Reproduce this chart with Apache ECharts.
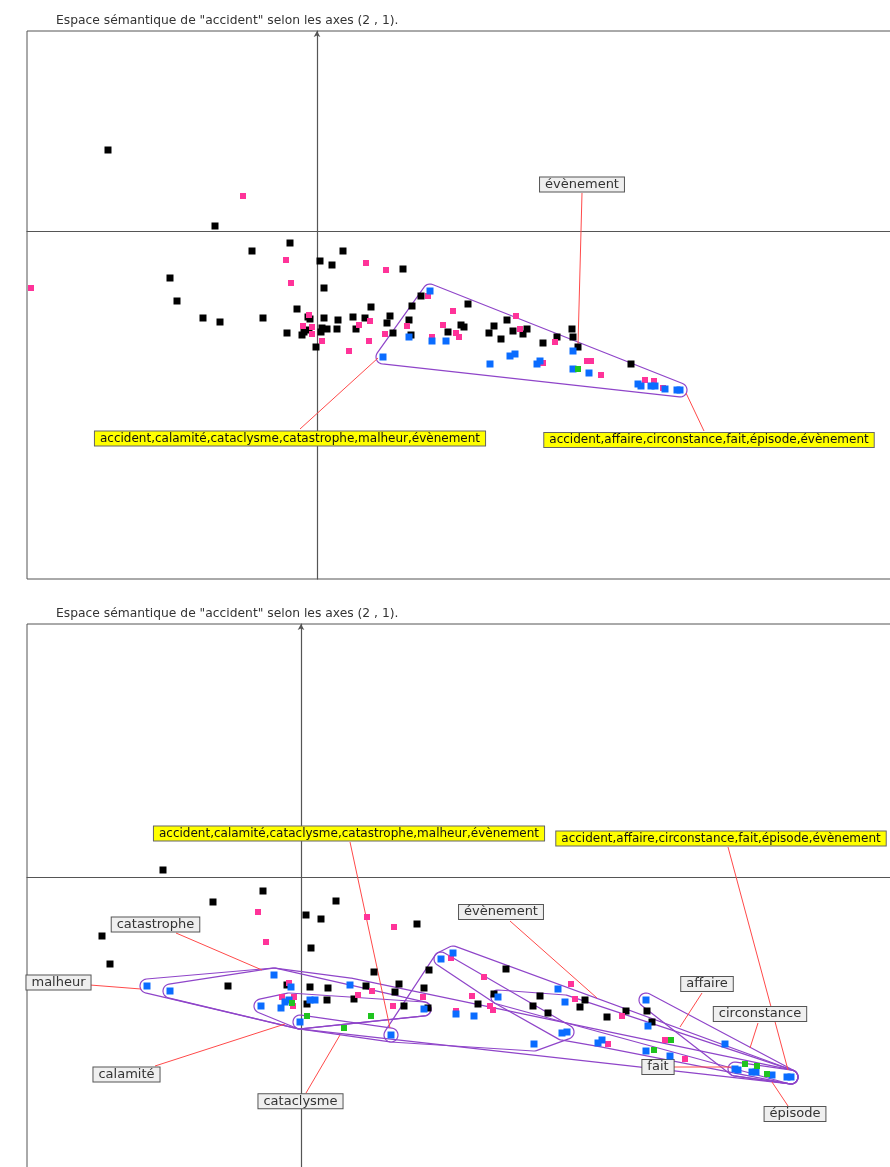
<!DOCTYPE html>
<html>
<head>
<meta charset="utf-8">
<title>Espace sémantique de "accident"</title>
<script src="https://cdn.jsdelivr.net/npm/echarts@6/dist/echarts.min.js"></script>
<style>
  html, body { margin: 0; padding: 0; background: #fff; }
  #chart { width: 890px; height: 1167px; }
</style>
</head>
<body>
<div id="chart"></div>
<script>
// Axes (2, 1) coordinates of every word sense, two views of the same space.
const titleText = 'Espace sémantique de "accident" selon les axes (2 , 1).';

// ---- upper view ----
const blackA = [[-2.09,0.81],[-1.02,0.05],[-0.27,-0.12],[-0.65,-0.20],[0.26,-0.20],[0.03,-0.30],[0.15,-0.34],[0.86,-0.38],[-1.47,-0.47],[0.07,-0.57],[-1.40,-0.70],[1.04,-0.65],[-0.20,-0.78],[0.95,-0.75],[0.54,-0.76],[-1.14,-0.87],[-0.97,-0.91],[-0.54,-0.87],[-0.09,-0.86],[-0.07,-0.88],[0.07,-0.87],[0.21,-0.89],[0.36,-0.86],[0.48,-0.87],[0.73,-0.85],[0.70,-0.92],[0.92,-0.89],[0.39,-0.98],[0.20,-0.98],[0.10,-0.98],[0.05,-0.97],[0.04,-1.01],[-0.08,-0.99],[-0.13,-1.01],[-0.15,-1.04],[-0.30,-1.02],[0.76,-1.02],[0.94,-1.04],[-0.01,-1.16],[1.51,-0.73],[1.31,-1.01],[1.44,-0.94],[1.47,-0.96],[1.77,-0.95],[1.72,-1.02],[1.90,-0.89],[1.84,-1.08],[1.96,-1.00],[2.06,-1.03],[2.10,-0.98],[2.26,-1.12],[2.40,-1.06],[2.55,-0.98],[2.56,-1.06],[2.61,-1.16],[3.14,-1.33]];
const pinkA = [[-0.74,0.35],[-2.86,-0.57],[-0.31,-0.29],[0.49,-0.32],[0.69,-0.39],[-0.26,-0.52],[-0.08,-0.84],[-0.14,-0.95],[-0.05,-0.96],[-0.05,-1.03],[0.53,-0.90],[0.42,-0.94],[0.90,-0.95],[0.68,-1.03],[0.05,-1.10],[0.52,-1.10],[0.32,-1.20],[1.11,-0.65],[1.15,-1.06],[1.26,-0.94],[1.36,-0.80],[1.39,-1.02],[1.42,-1.06],[1.99,-0.85],[2.03,-0.98],[2.38,-1.11],[2.26,-1.32],[2.70,-1.30],[2.74,-1.30],[2.84,-1.44],[3.28,-1.49],[3.37,-1.50],[3.46,-1.57]];
const blueA = [[1.13,-0.60],[0.92,-1.06],[1.15,-1.10],[1.29,-1.10],[0.66,-1.26],[1.73,-1.33],[1.93,-1.25],[1.98,-1.23],[2.20,-1.33],[2.23,-1.30],[2.56,-1.20],[2.56,-1.38],[2.72,-1.42],[3.21,-1.53],[3.24,-1.55],[3.34,-1.55],[3.38,-1.55],[3.48,-1.58],[3.60,-1.59],[3.63,-1.59]];
const greenA = [[2.61,-1.38]];
const hullsA = [
  [[1.13,-0.60],[0.66,-1.26],[3.63,-1.59]]
];
const notesA = ['évènement', 'accident,calamité,cataclysme,catastrophe,malheur,évènement', 'accident,affaire,circonstance,fait,épisode,évènement'];
const notesAAt = [[2.65,0.465],[-0.27,-2.075],[3.92,-2.09]];
const leadFromA = [[2.65,0.38],[-0.17,-1.98],[3.87,-2.00]];
const leadToA = [[2.61,-1.14],[0.61,-1.27],[3.69,-1.62]];

// ---- lower view ----
const blackB = [[-1.38,0.07],[-0.38,-0.14],[-0.88,-0.25],[0.35,-0.24],[0.05,-0.38],[0.20,-0.42],[1.16,-0.47],[-1.99,-0.59],[0.10,-0.71],[-1.91,-0.87],[0.73,-0.95],[1.28,-0.93],[-0.73,-1.09],[-0.14,-1.08],[0.09,-1.10],[0.27,-1.11],[0.65,-1.09],[0.98,-1.07],[0.94,-1.15],[1.23,-1.11],[0.26,-1.23],[0.53,-1.22],[0.06,-1.27],[1.03,-1.29],[1.27,-1.31],[2.05,-0.92],[1.93,-1.17],[1.77,-1.27],[2.39,-1.19],[2.32,-1.29],[2.47,-1.36],[2.84,-1.23],[2.79,-1.30],[3.06,-1.40],[3.25,-1.34],[3.46,-1.34],[3.51,-1.45]];
const pinkB = [[-0.43,-0.35],[-0.35,-0.65],[0.66,-0.40],[0.93,-0.50],[-0.12,-1.06],[-0.19,-1.20],[-0.07,-1.20],[-0.08,-1.29],[0.57,-1.18],[0.71,-1.14],[0.92,-1.29],[1.22,-1.20],[1.50,-0.81],[1.83,-1.00],[1.71,-1.19],[1.89,-1.29],[1.92,-1.33],[1.55,-1.34],[2.70,-1.07],[2.74,-1.22],[3.21,-1.39],[3.07,-1.67],[3.64,-1.63],[3.84,-1.82]];
const blueB = [[-0.27,-0.98],[-1.54,-1.09],[-1.31,-1.14],[-0.10,-1.10],[0.49,-1.08],[-0.40,-1.29],[-0.20,-1.31],[-0.16,-1.25],[-0.12,-1.23],[0.09,-1.23],[0.14,-1.23],[-0.01,-1.45],[0.90,-1.58],[1.23,-1.32],[1.40,-0.82],[1.52,-0.76],[1.55,-1.37],[1.73,-1.39],[1.97,-1.20],[2.57,-1.12],[2.64,-1.25],[2.61,-1.56],[2.66,-1.55],[2.33,-1.67],[2.97,-1.66],[3.01,-1.63],[3.45,-1.23],[3.47,-1.49],[3.45,-1.74],[3.69,-1.79],[4.24,-1.67],[4.34,-1.92],[4.37,-1.93],[4.51,-1.95],[4.55,-1.95],[4.71,-1.98],[4.86,-2.00],[4.90,-2.00]];
const greenB = [[-0.09,-1.26],[0.06,-1.39],[0.70,-1.39],[0.43,-1.51],[3.53,-1.73],[3.70,-1.63],[4.44,-1.87],[4.56,-1.89],[4.66,-1.97]];
const hullsB = [
  [[-1.54,-1.09],[-0.27,-0.98],[0.49,-1.08],[4.90,-2.00],[-0.01,-1.45]],
  [[-1.31,-1.14],[-0.27,-0.98],[1.23,-1.32],[-0.01,-1.45]],
  [[-0.40,-1.29],[-0.12,-1.23],[1.23,-1.32],[-0.01,-1.45]],
  [[-0.01,-1.45],[0.90,-1.58]],
  [[0.90,-1.58],[1.40,-0.82],[2.66,-1.55],[2.33,-1.67]],
  [[1.40,-0.82],[1.52,-0.76],[4.90,-2.00],[1.97,-1.20]],
  [[3.45,-1.23],[4.90,-2.00],[4.34,-1.92]],
  [[4.34,-1.92],[4.90,-2.00]],
  [[1.97,-1.20],[2.64,-1.25],[4.90,-2.00],[3.01,-1.63],[2.61,-1.56]]
];
const notesB = ['accident,calamité,cataclysme,catastrophe,malheur,évènement', 'accident,affaire,circonstance,fait,épisode,évènement', 'catastrophe', 'malheur', 'calamité', 'cataclysme', 'évènement', 'affaire', 'circonstance', 'fait', 'épisode'];
const notesBAt = [[0.48,0.435],[4.20,0.385],[-1.455,-0.475],[-2.425,-1.055],[-1.745,-1.975],[-0.005,-2.243],[2.00,-0.35],[4.06,-1.07],[4.59,-1.37],[3.57,-1.90],[4.94,-2.37]];
const leadFromB = [[0.49,0.35],[4.27,0.30],[-1.25,-0.56],[-2.11,-1.08],[-1.46,-1.89],[0.05,-2.16],[2.09,-0.44],[4.01,-1.16],[4.57,-1.46],[3.72,-1.90],[4.87,-2.29]];
const leadToB = [[0.89,-1.51],[4.87,-1.93],[-0.39,-0.93],[-1.60,-1.12],[-0.16,-1.47],[0.39,-1.58],[2.96,-1.21],[3.79,-1.50],[4.49,-1.71],[4.32,-1.90],[4.71,-2.05]];

// ---- drawing ----
const FONT = 'DejaVu Sans';
const HULL_PAD = 7;

// Outline of a polygon grown by r pixels, with rounded convex corners.
function grownOutline(pts, r) {
  const n = pts.length;
  let area = 0;
  for (let i = 0; i < n; i++) {
    const a = pts[i], b = pts[(i + 1) % n];
    area += a[0] * b[1] - b[0] * a[1];
  }
  const s = area >= 0 ? 1 : -1;
  const normals = [];
  for (let i = 0; i < n; i++) {
    const a = pts[i], b = pts[(i + 1) % n];
    const dx = b[0] - a[0], dy = b[1] - a[1];
    const len = Math.hypot(dx, dy) || 1;
    normals.push(s > 0 ? [dy / len, -dx / len] : [-dy / len, dx / len]);
  }
  const out = [];
  for (let i = 0; i < n; i++) {
    const p = pts[i], prev = pts[(i - 1 + n) % n], next = pts[(i + 1) % n];
    const nIn = normals[(i - 1 + n) % n], nOut = normals[i];
    const ex1 = p[0] - prev[0], ey1 = p[1] - prev[1];
    const ex2 = next[0] - p[0], ey2 = next[1] - p[1];
    const cross = ex1 * ey2 - ey1 * ex2;
    if (cross * s >= -1e-9) {
      const a1 = Math.atan2(nIn[1], nIn[0]);
      const a2 = Math.atan2(nOut[1], nOut[0]);
      let da = a2 - a1;
      if (s > 0) {
        while (da < 0) da += 2 * Math.PI;
        while (da >= 2 * Math.PI) da -= 2 * Math.PI;
        if (da > 2 * Math.PI - 1e-6) da = 0;
      } else {
        while (da > 0) da -= 2 * Math.PI;
        while (da <= -2 * Math.PI) da += 2 * Math.PI;
        if (da < -2 * Math.PI + 1e-6) da = 0;
      }
      const steps = Math.max(1, Math.ceil(Math.abs(da) / (Math.PI / 14)));
      for (let k = 0; k <= steps; k++) {
        const a = a1 + da * k / steps;
        out.push([p[0] + r * Math.cos(a), p[1] + r * Math.sin(a)]);
      }
    } else {
      const dot = nIn[0] * nOut[0] + nIn[1] * nOut[1];
      const k = r / (1 + dot);
      out.push([p[0] + (nIn[0] + nOut[0]) * k, p[1] + (nIn[1] + nOut[1]) * k]);
    }
  }
  return out;
}

function dots(points, color, size, gi) {
  return {
    type: 'scatter', xAxisIndex: gi, yAxisIndex: gi,
    symbol: 'rect', symbolSize: size, data: points,
    itemStyle: { color: color, opacity: 1 }, silent: true
  };
}

function hullSeries(hulls, gi) {
  return {
    type: 'custom', xAxisIndex: gi, yAxisIndex: gi, silent: true,
    data: hulls.map((h, i) => [h[0][0], h[0][1], i]),
    renderItem: function (params, api) {
      const h = hulls[api.value(2)];
      const pts = h.map(p => api.coord(p));
      return {
        type: 'polygon',
        shape: { points: grownOutline(pts, HULL_PAD) },
        style: { fill: null, stroke: '#8f45c9', lineWidth: 1.2 }
      };
    }
  };
}

function leaderSeries(from, to, gi) {
  return {
    type: 'custom', xAxisIndex: gi, yAxisIndex: gi, silent: true,
    data: from.map((p, i) => [p[0], p[1], i]),
    renderItem: function (params, api) {
      const i = api.value(2);
      const a = api.coord(from[i]), b = api.coord(to[i]);
      return {
        type: 'line',
        shape: { x1: a[0], y1: a[1], x2: b[0], y2: b[1] },
        style: { stroke: '#ff4a4a', lineWidth: 1 }
      };
    }
  };
}

function noteSeries(texts, at, gi) {
  return {
    type: 'custom', xAxisIndex: gi, yAxisIndex: gi, silent: true,
    data: at.map((p, i) => [p[0], p[1], i]),
    renderItem: function (params, api) {
      const i = api.value(2);
      const c = api.coord(at[i]);
      const clique = texts[i].indexOf(',') >= 0;
      return {
        type: 'text',
        x: c[0], y: c[1],
        style: {
          text: texts[i],
          align: 'center', verticalAlign: 'middle',
          fontFamily: FONT,
          fontSize: clique ? 12 : 13,
          fill: clique ? '#111' : '#333',
          backgroundColor: clique ? '#ffff00' : '#efefef',
          borderColor: clique ? '#666' : '#555',
          borderWidth: 1,
          padding: clique ? [1, 5, 1, 5] : [1, 5, 0, 5]
        }
      };
    }
  };
}

function axisPair(gi, xmin, xmax, ymin, ymax) {
  const line = { show: true, onZero: true, lineStyle: { color: '#555', width: 1.2 } };
  return {
    x: {
      type: 'value', gridIndex: gi, min: xmin, max: xmax,
      axisLine: line, axisTick: { show: false }, axisLabel: { show: false }, splitLine: { show: false }
    },
    y: {
      type: 'value', gridIndex: gi, min: ymin, max: ymax,
      axisLine: Object.assign({}, line, { symbol: ['none', 'arrow'], symbolSize: [5, 6] }),
      axisTick: { show: false }, axisLabel: { show: false }, splitLine: { show: false }
    }
  };
}

const axA = axisPair(0, -2.90, 5.90, -3.48, 2.00);
const axB = axisPair(1, -2.74, 6.06, -3.03, 2.53);

const titleStyle = { fontFamily: FONT, fontSize: 12.3, fontWeight: 'normal', color: '#333' };

const chart = echarts.init(document.getElementById('chart'), null, { renderer: 'canvas' });
chart.setOption({
  animation: false,
  backgroundColor: '#ffffff',
  title: [
    { text: titleText, left: 56, top: 15, padding: 0, textStyle: titleStyle },
    { text: titleText, left: 56, top: 608, padding: 0, textStyle: titleStyle }
  ],
  grid: [
    { left: 27, top: 31, width: 880, height: 548, outerBoundsMode: 'none', containLabel: false,
      show: true, borderColor: '#555', borderWidth: 1, backgroundColor: 'transparent' },
    { left: 27, top: 624, width: 880, height: 556, outerBoundsMode: 'none', containLabel: false,
      show: true, borderColor: '#555', borderWidth: 1, backgroundColor: 'transparent' }
  ],
  xAxis: [axA.x, axB.x],
  yAxis: [axA.y, axB.y],
  series: [
    dots(blackA, '#000000', 7, 0),
    dots(pinkA, '#ff3399', 6, 0),
    dots(blueA, '#0a6cff', 7, 0),
    dots(greenA, '#1fc41f', 6, 0),
    hullSeries(hullsA, 0),
    leaderSeries(leadFromA, leadToA, 0),
    noteSeries(notesA, notesAAt, 0),

    dots(blackB, '#000000', 7, 1),
    dots(pinkB, '#ff3399', 6, 1),
    dots(blueB, '#0a6cff', 7, 1),
    dots(greenB, '#1fc41f', 6, 1),
    hullSeries(hullsB, 1),
    leaderSeries(leadFromB, leadToB, 1),
    noteSeries(notesB, notesBAt, 1)
  ]
});
</script>
</body>
</html>
